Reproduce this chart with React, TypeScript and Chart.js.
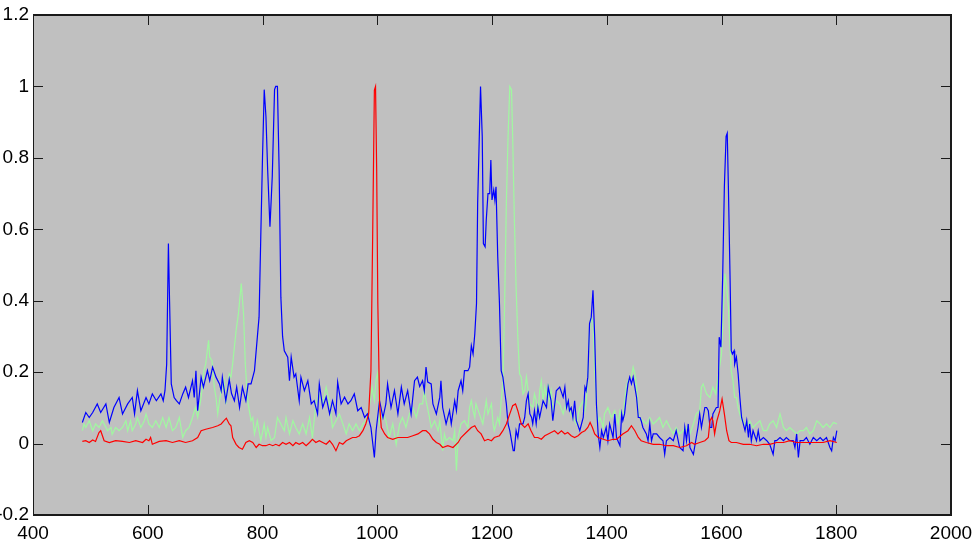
import React, { useEffect, useRef } from "react";
import { Chart, registerables } from "chart.js";

Chart.register(...registerables);

// ---------- axis ranges / ticks ----------
const xRange = [400, 2000];
const xStep = 200;
const yRange = [-0.2, 1.2];
const yStep = 0.2;

// ---------- blue series ----------
const blueX = [
  486, 492, 498, 504, 512, 518, 527, 533, 541, 550, 556, 565, 573, 577, 582, 588, 597, 602, 608, 615,
  623, 627, 630, 633, 636, 638, 641, 646, 650, 655, 661, 666, 671, 678, 681, 684, 687, 693, 697, 704,
  708, 713, 719, 725, 728, 730, 736, 742, 746, 751, 755, 760, 765, 771, 775, 780, 786, 791, 794, 797,
  800, 803, 806, 809, 813, 817, 821, 823, 826, 829, 832, 835, 838, 844, 847, 850, 855, 858, 864, 867,
  873, 879, 885, 890, 896, 899, 905, 911, 917, 922, 928, 931, 937, 943, 949, 954, 960, 966, 972, 978,
  983, 989, 995, 998, 1004, 1010, 1015, 1018, 1024, 1030, 1036, 1042, 1047, 1053, 1059, 1065, 1070, 1074, 1079, 1082,
  1085, 1088, 1094, 1097, 1103, 1109, 1111, 1114, 1120, 1126, 1129, 1135, 1138, 1141, 1146, 1149, 1152, 1158, 1161, 1164,
  1167, 1170, 1173, 1175, 1180, 1183, 1185, 1188, 1190, 1193, 1196, 1198, 1200, 1203, 1205, 1207, 1210, 1213, 1216, 1219,
  1222, 1225, 1228, 1231, 1237, 1239, 1242, 1245, 1248, 1254, 1257, 1260, 1263, 1266, 1269, 1271, 1274, 1277, 1280, 1283,
  1289, 1295, 1298, 1303, 1306, 1312, 1318, 1324, 1327, 1330, 1333, 1335, 1338, 1341, 1344, 1347, 1353, 1359, 1362, 1364,
  1367, 1370, 1373, 1376, 1379, 1382, 1385, 1388, 1391, 1394, 1399, 1402, 1405, 1411, 1414, 1417, 1423, 1426, 1428, 1431,
  1434, 1437, 1440, 1443, 1446, 1449, 1452, 1455, 1458, 1460, 1463, 1469, 1472, 1475, 1478, 1481, 1487, 1492, 1498, 1501,
  1504, 1510, 1516, 1521, 1527, 1533, 1536, 1539, 1542, 1545, 1551, 1556, 1559, 1562, 1565, 1568, 1571, 1574, 1577, 1580,
  1583, 1585, 1591, 1594, 1596, 1599, 1602, 1605, 1608, 1610, 1612, 1615, 1617, 1619, 1622, 1623, 1626, 1629, 1632, 1635,
  1638, 1641, 1644, 1647, 1649, 1652, 1655, 1661, 1664, 1667, 1673, 1679, 1684, 1690, 1693, 1696, 1702, 1708, 1713, 1719,
  1725, 1728, 1731, 1734, 1737, 1743, 1748, 1754, 1760, 1766, 1772, 1777, 1783, 1789, 1792, 1795, 1798, 1801,
];
const blueY = [
  0.059, 0.087, 0.073, 0.087, 0.111, 0.087, 0.111, 0.059, 0.101, 0.129, 0.083, 0.111, 0.129, 0.083, 0.148, 0.092, 0.129, 0.111, 0.139, 0.12,
  0.139, 0.12, 0.148, 0.223, 0.56, 0.4, 0.167, 0.129, 0.12, 0.111, 0.139, 0.158, 0.129, 0.176, 0.129, 0.204, 0.092, 0.186, 0.158, 0.204,
  0.176, 0.214, 0.186, 0.167, 0.148, 0.186, 0.12, 0.18, 0.14, 0.12, 0.158, 0.101, 0.158, 0.12, 0.167, 0.167, 0.204, 0.298, 0.354, 0.579,
  0.8, 0.991, 0.916, 0.766, 0.607, 0.747, 0.991, 1.0, 1.0, 0.766, 0.41, 0.3, 0.26, 0.242, 0.176, 0.242, 0.186, 0.195, 0.12, 0.186,
  0.148, 0.176, 0.111, 0.12, 0.083, 0.167, 0.101, 0.13, 0.083, 0.12, 0.083, 0.172, 0.111, 0.13, 0.111, 0.12, 0.139, 0.092, 0.101, 0.073,
  0.083, 0.045, -0.039, 0.036, 0.12, 0.073, 0.111, 0.167, 0.101, 0.148, 0.083, 0.158, 0.111, 0.148, 0.083, 0.176, 0.186, 0.16, 0.176, 0.148,
  0.214, 0.172, 0.167, 0.111, 0.083, 0.13, 0.176, 0.101, 0.055, 0.092, 0.055, 0.12, 0.092, 0.148, 0.176, 0.148, 0.204, 0.204, 0.214, 0.274,
  0.251, 0.307, 0.392, 0.672, 1.0, 0.86, 0.56, 0.551, 0.626, 0.7, 0.7, 0.794, 0.682, 0.71, 0.682, 0.719, 0.523, 0.392, 0.204, 0.186,
  0.148, 0.111, 0.055, 0.036, -0.02, -0.02, 0.036, 0.017, 0.055, 0.055, 0.073, 0.12, 0.139, 0.083, 0.073, 0.055, 0.092, 0.055, 0.101, 0.073,
  0.12, 0.101, 0.158, 0.12, 0.064, 0.148, 0.158, 0.13, 0.158, 0.101, 0.12, 0.092, 0.101, 0.073, 0.12, 0.064, 0.036, 0.073, 0.158, 0.148,
  0.186, 0.336, 0.354, 0.429, 0.298, 0.111, 0.027, -0.011, 0.036, 0.017, 0.045, 0.008, 0.055, 0.017, 0.083, 0.017, -0.006, 0.083, 0.064, 0.083,
  0.129, 0.167, 0.186, 0.167, 0.186, 0.158, 0.129, 0.073, 0.073, 0.064, 0.045, 0.027, 0.008, 0.055, 0.008, 0.027, 0.027, 0.017, 0.008, -0.03,
  0.008, 0.017, 0.008, 0.036, -0.011, -0.02, 0.045, 0.008, 0.055, -0.011, -0.03, 0.017, 0.045, 0.083, 0.045, 0.073, 0.101, 0.101, 0.092, 0.045,
  0.045, 0.083, 0.101, 0.101, 0.298, 0.27, 0.466, 0.719, 0.86, 0.869, 0.719, 0.457, 0.26, 0.251, 0.26, 0.223, 0.242, 0.195, 0.129, 0.073,
  0.055, 0.036, 0.064, 0.017, 0.055, 0.008, 0.036, 0.008, 0.036, 0.008, 0.017, 0.008, -0.002, -0.03, 0.008, 0.008, 0.017, 0.008, 0.017, 0.008,
  0.008, -0.011, 0.027, -0.039, 0.008, 0.008, 0.017, -0.002, 0.017, 0.008, 0.017, 0.008, 0.017, -0.011, -0.02, 0.017, 0.008, 0.036,
];

// ---------- light green series ----------
const greenX = [
  486, 489, 492, 498, 504, 509, 515, 521, 524, 530, 536, 538, 544, 550, 556, 562, 565, 570, 573, 579,
  582, 588, 594, 597, 602, 608, 614, 620, 626, 632, 637, 643, 649, 655, 661, 666, 672, 678, 683, 687,
  693, 698, 701, 706, 708, 712, 716, 719, 722, 725, 728, 730, 733, 736, 742, 745, 748, 751, 754, 758,
  763, 767, 770, 773, 775, 780, 783, 786, 791, 797, 803, 806, 809, 815, 821, 826, 832, 838, 841, 847,
  853, 858, 864, 870, 876, 882, 887, 893, 899, 905, 911, 917, 922, 928, 934, 940, 946, 951, 957, 963,
  969, 975, 980, 986, 991, 995, 998, 1001, 1004, 1010, 1015, 1021, 1027, 1033, 1039, 1044, 1050, 1056, 1062, 1068,
  1074, 1079, 1082, 1085, 1091, 1094, 1100, 1106, 1109, 1114, 1117, 1120, 1126, 1132, 1135, 1138, 1141, 1146, 1152, 1158,
  1161, 1164, 1167, 1170, 1172, 1178, 1184, 1190, 1193, 1199, 1202, 1204, 1210, 1213, 1216, 1219, 1222, 1225, 1228, 1231,
  1234, 1236, 1239, 1242, 1245, 1248, 1251, 1254, 1257, 1260, 1263, 1266, 1271, 1274, 1277, 1280, 1283, 1286, 1289, 1292,
  1295, 1298, 1300, 1303, 1306, 1312, 1318, 1324, 1330, 1335, 1341, 1347, 1353, 1359, 1362, 1364, 1367, 1370, 1373, 1376,
  1379, 1382, 1385, 1388, 1394, 1396, 1402, 1408, 1414, 1420, 1423, 1428, 1434, 1437, 1443, 1446, 1449, 1452, 1455, 1457,
  1463, 1469, 1475, 1481, 1487, 1492, 1498, 1504, 1510, 1516, 1521, 1527, 1533, 1539, 1545, 1551, 1556, 1562, 1565, 1568,
  1574, 1580, 1585, 1590, 1594, 1600, 1603, 1606, 1609, 1612, 1615, 1617, 1620, 1623, 1626, 1629, 1635, 1638, 1644, 1649,
  1655, 1661, 1667, 1673, 1679, 1684, 1690, 1696, 1702, 1708, 1713, 1719, 1725, 1731, 1737, 1743, 1748, 1754, 1760, 1766,
  1772, 1777, 1783, 1789, 1795, 1801,
];
const greenY = [
  0.036, 0.055, 0.045, 0.064, 0.036, 0.055, 0.045, 0.064, 0.055, 0.036, 0.045, 0.026, 0.045, 0.036, 0.045, 0.064, 0.036, 0.064, 0.036, 0.055,
  0.073, 0.045, 0.064, 0.083, 0.055, 0.045, 0.064, 0.045, 0.073, 0.045, 0.073, 0.036, 0.045, 0.073, 0.017, 0.036, 0.045, 0.073, 0.101, 0.073,
  0.129, 0.204, 0.223, 0.289, 0.242, 0.232, 0.158, 0.129, 0.083, 0.12, 0.148, 0.148, 0.176, 0.111, 0.195, 0.186, 0.223, 0.27, 0.317, 0.363,
  0.448, 0.363, 0.223, 0.148, 0.111, 0.064, 0.073, 0.027, 0.064, 0.008, 0.055, 0.017, 0.045, 0.008, 0.017, 0.073, 0.055, 0.036, 0.073, 0.027,
  0.064, 0.045, 0.027, 0.055, 0.027, 0.073, 0.017, 0.111, 0.139, 0.111, 0.158, 0.111, 0.045, 0.064, 0.083, 0.055, 0.027, 0.055, 0.036, 0.055,
  0.036, 0.055, 0.064, 0.101, 0.158, 0.12, 0.18, 0.2, 0.055, 0.083, 0.064, 0.017, 0.055, -0.002, 0.055, 0.073, 0.045, 0.083, 0.101, 0.073,
  0.111, 0.111, 0.148, 0.12, 0.073, 0.045, 0.064, 0.036, 0.064, -0.02, 0.027, 0.008, 0.017, 0.008, 0.036, -0.076, 0.017, 0.055, 0.064, 0.045,
  0.101, 0.12, 0.092, 0.073, 0.111, 0.083, 0.055, 0.12, 0.083, 0.111, 0.055, 0.036, 0.073, 0.055, 0.12, 0.167, 0.392, 0.672, 0.86, 1.0,
  0.991, 0.86, 0.626, 0.438, 0.298, 0.195, 0.186, 0.139, 0.148, 0.186, 0.148, 0.111, 0.101, 0.139, 0.12, 0.073, 0.148, 0.176, 0.12, 0.158,
  0.13, 0.167, 0.12, 0.148, 0.092, 0.12, 0.111, 0.083, 0.12, 0.092, 0.073, 0.055, 0.101, 0.12, 0.092, 0.111, 0.186, 0.317, 0.354, 0.336,
  0.204, 0.111, 0.064, 0.073, 0.045, 0.083, 0.101, 0.073, 0.092, 0.055, 0.092, 0.073, 0.158, 0.176, 0.186, 0.214, 0.195, 0.158, 0.083, 0.073,
  0.064, 0.055, 0.073, 0.055, 0.064, 0.073, 0.045, 0.064, 0.045, 0.027, 0.045, 0.027, 0.036, 0.045, 0.027, 0.055, 0.083, 0.092, 0.158, 0.167,
  0.139, 0.129, 0.158, 0.139, 0.186, 0.251, 0.364, 0.476, 0.438, 0.382, 0.27, 0.204, 0.176, 0.129, 0.129, 0.101, 0.064, 0.064, 0.045, 0.064,
  0.045, 0.055, 0.064, 0.036, 0.036, 0.055, 0.064, 0.045, 0.083, 0.045, 0.036, 0.045, 0.036, 0.027, 0.036, 0.036, 0.045, 0.027, 0.036, 0.064,
  0.055, 0.045, 0.055, 0.045, 0.059, 0.055,
];

// ---------- red series ----------
const redX = [
  486, 492, 498, 504, 509, 515, 518, 521, 524, 533, 544, 556, 568, 579, 591, 597, 602, 605, 608, 620,
  632, 643, 655, 666, 678, 687, 693, 701, 713, 722, 728, 733, 737, 742, 745, 748, 754, 759, 765, 771,
  777, 783, 789, 794, 800, 806, 812, 818, 823, 829, 835, 841, 847, 853, 858, 864, 870, 876, 882, 887,
  893, 899, 905, 911, 917, 922, 928, 934, 940, 946, 951, 957, 963, 969, 975, 980, 985, 989, 992, 995,
  997, 999, 1001, 1004, 1007, 1013, 1018, 1027, 1036, 1044, 1053, 1062, 1071, 1079, 1085, 1091, 1097, 1103, 1109, 1114,
  1123, 1132, 1141, 1146, 1155, 1164, 1170, 1175, 1181, 1187, 1193, 1199, 1204, 1213, 1219, 1225, 1231, 1236, 1241, 1245,
  1251, 1257, 1263, 1268, 1274, 1280, 1286, 1292, 1298, 1303, 1309, 1315, 1321, 1327, 1332, 1338, 1344, 1350, 1356, 1362,
  1367, 1371, 1375, 1379, 1385, 1394, 1402, 1411, 1417, 1428, 1437, 1443, 1449, 1455, 1460, 1469, 1481, 1492, 1504, 1516,
  1527, 1539, 1548, 1553, 1562, 1571, 1577, 1580, 1583, 1585, 1588, 1592, 1597, 1601, 1605, 1609, 1613, 1617, 1626, 1638,
  1649, 1661, 1673, 1684, 1696, 1708, 1719, 1731, 1743, 1754, 1766, 1777, 1789, 1801,
];
const redY = [
  0.006, 0.008, 0.003, 0.01, 0.006, 0.031, 0.036, 0.022, 0.008, 0.003, 0.008, 0.006, 0.003, 0.008, 0.003, 0.012, 0.008, 0.017, -0.002, 0.006,
  0.008, 0.003, 0.008, 0.003, 0.008, 0.017, 0.036, 0.04, 0.045, 0.05, 0.055, 0.064, 0.071, 0.055, 0.05, 0.017, -0.002, -0.011, -0.016, 0.003,
  0.008, 0.003, -0.011, -0.002, -0.006, -0.006, -0.002, -0.006, -0.002, -0.006, 0.003, -0.002, 0.003, -0.006, 0.003, -0.002, 0.003, -0.006, 0.003, 0.012,
  0.003, 0.008, 0.003, -0.002, 0.008, -0.002, -0.02, 0.003, -0.002, 0.008, 0.012, 0.017, 0.017, 0.022, 0.036, 0.055, 0.083, 0.204, 0.579, 0.99,
  1.0, 0.766, 0.392, 0.111, 0.045, 0.027, 0.017, 0.012, 0.017, 0.017, 0.017, 0.022, 0.027, 0.036, 0.036, 0.027, 0.012, 0.003, -0.002, -0.011,
  -0.006, -0.011, 0.003, 0.017, 0.031, 0.045, 0.05, 0.036, 0.027, 0.008, 0.012, 0.008, 0.017, 0.022, 0.036, 0.055, 0.083, 0.106, 0.111, 0.092,
  0.055, 0.045, 0.055, 0.036, 0.017, 0.017, 0.012, 0.022, 0.027, 0.031, 0.036, 0.027, 0.036, 0.027, 0.031, 0.022, 0.017, 0.022, 0.031, 0.036,
  0.045, 0.059, 0.045, 0.027, 0.017, 0.012, 0.008, 0.012, 0.012, 0.027, 0.036, 0.05, 0.036, 0.017, 0.008, 0.003, -0.002, -0.002, -0.006, -0.006,
  -0.011, -0.006, 0.003, -0.002, 0.003, 0.008, 0.017, 0.064, 0.073, 0.064, 0.027, 0.064, 0.092, 0.125, 0.083, 0.036, 0.008, 0.003, 0.003, -0.002,
  -0.002, -0.006, -0.002, -0.002, 0.003, 0.003, 0.008, 0.003, 0.003, 0.003, 0.003, 0.003, 0.008, 0.003,
];

const toPoints = (xs: number[], ys: number[]) => xs.map((x, i) => ({ x, y: ys[i] }));

const FONT = '"Liberation Sans", Arial, sans-serif';

const framePlugin = {
  id: "matlabFrame",
  beforeDraw(chart: any) {
    const { ctx, chartArea: a } = chart;
    ctx.save();
    ctx.fillStyle = "#c0c0c0";
    ctx.fillRect(a.left, a.top, a.right - a.left, a.bottom - a.top);
    ctx.restore();
  },
  afterDraw(chart: any) {
    const { ctx, chartArea: a, scales } = chart;
    const tl = 10;
    ctx.save();
    ctx.strokeStyle = "#1a1a1a";
    ctx.lineWidth = 1;
    ctx.beginPath();
    scales.x.ticks.forEach((t: any) => {
      const px = Math.round(scales.x.getPixelForValue(t.value)) + 0.5;
      ctx.moveTo(px, a.bottom);
      ctx.lineTo(px, a.bottom - tl);
      ctx.moveTo(px, a.top);
      ctx.lineTo(px, a.top + tl);
    });
    scales.y.ticks.forEach((t: any) => {
      const py = Math.round(scales.y.getPixelForValue(t.value)) + 0.5;
      ctx.moveTo(a.left, py);
      ctx.lineTo(a.left + tl, py);
      ctx.moveTo(a.right, py);
      ctx.lineTo(a.right - tl, py);
    });
    ctx.stroke();
    ctx.fillStyle = "#1a1a1a";
    const L = Math.round(a.left), R = Math.round(a.right), T = Math.round(a.top), B = Math.round(a.bottom);
    ctx.fillRect(L, T - 1, R - L + 1, 2);
    ctx.fillRect(L, B - 1, R - L + 1, 2);
    ctx.fillRect(L, T - 1, 1, B - T + 1);
    ctx.fillRect(R - 1, T - 1, 2, B - T + 2);
    ctx.restore();
  },
};

export default function App() {
  const ref = useRef<HTMLCanvasElement | null>(null);

  useEffect(() => {
    if (!ref.current) return;
    const chart = new Chart(ref.current, {
      type: "line",
      data: {
        datasets: [
          { label: "red", data: toPoints(redX, redY), borderColor: "#ff0000", borderWidth: 1.2, pointRadius: 0, tension: 0, fill: false },
          { label: "blue", data: toPoints(blueX, blueY), borderColor: "#0000ff", borderWidth: 1.2, pointRadius: 0, tension: 0, fill: false },
          { label: "green", data: toPoints(greenX, greenY), borderColor: "#a0f8a0", borderWidth: 1.2, pointRadius: 0, tension: 0, fill: false },
        ],
      },
      options: {
        animation: false,
        responsive: false,
        maintainAspectRatio: false,
        parsing: false,
        normalized: true,
        layout: { padding: { left: 0, right: 22, top: 15, bottom: 0 } },
        plugins: { legend: { display: false }, tooltip: { enabled: false }, title: { display: false } },
        scales: {
          x: {
            type: "linear",
            min: xRange[0],
            max: xRange[1],
            grid: { display: false, drawTicks: false },
            border: { display: false },
            ticks: {
              stepSize: xStep,
              padding: 7,
              color: "#000",
              font: { family: FONT, size: 19 },
              maxRotation: 0,
              autoSkip: false,
              callback: (v: any) => String(v),
            },
            afterFit: (s: any) => {
              s.height = 29;
              s.paddingLeft = 0;
              s.paddingRight = 0;
            },
          },
          y: {
            type: "linear",
            min: yRange[0],
            max: yRange[1],
            grid: { display: false, drawTicks: false },
            border: { display: false },
            ticks: {
              stepSize: yStep,
              padding: 4,
              color: "#000",
              font: { family: FONT, size: 19 },
              autoSkip: false,
              callback: (v: any) => String(Number(Number(v).toFixed(1))),
            },
            afterFit: (s: any) => {
              s.width = 33;
              s.paddingTop = 0;
              s.paddingBottom = 0;
            },
          },
        },
      },
      plugins: [framePlugin],
    });
    return () => chart.destroy();
  }, []);

  return (
    <div style={{ position: "absolute", left: 0, top: 0, width: 973, height: 544, background: "#fff" }}>
      <canvas ref={ref} width={973} height={544} style={{ display: "block", width: 973, height: 544 }} />
    </div>
  );
}
